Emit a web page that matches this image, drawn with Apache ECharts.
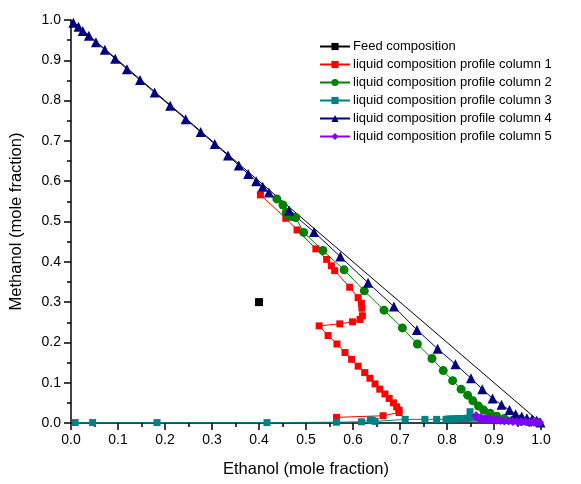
<!DOCTYPE html>
<html lang="en">
<head>
    <meta charset="UTF-8">
    <title>liquid composition profiles</title>
    <script src="https://cdn.jsdelivr.net/npm/echarts@6/dist/echarts.min.js"></script>
    <style>
        html, body { margin: 0; padding: 0; background: #fff; }
        #main { width: 581px; height: 484px; }
    </style>
</head>
<body>
<div id="main"></div>
<script type="text/javascript">
    // values: [ethanol, methanol]
    const feed = [[0.400, 0.300]]
    const diagonal = [[0, 1], [1, 0]]
    const column1 = [[0.403, 0.566], [0.457, 0.508], [0.481, 0.479], [0.521, 0.432], [0.544, 0.406], [0.554, 0.390],
        [0.561, 0.378], [0.593, 0.337], [0.611, 0.311], [0.618, 0.297], [0.619, 0.285], [0.620, 0.266], [0.615, 0.257],
        [0.599, 0.251], [0.572, 0.246], [0.528, 0.241], [0.547, 0.217], [0.566, 0.196], [0.583, 0.175], [0.597, 0.158],
        [0.611, 0.141], [0.625, 0.125], [0.636, 0.111], [0.647, 0.097], [0.657, 0.084], [0.668, 0.072], [0.677, 0.061],
        [0.686, 0.050], [0.693, 0.040], [0.698, 0.032], [0.698, 0.026], [0.664, 0.018], [0.565, 0.014]]
    const column2 = [[0.438, 0.556], [0.451, 0.541], [0.458, 0.522], [0.463, 0.515], [0.470, 0.512], [0.478, 0.510],
        [0.495, 0.473], [0.536, 0.428], [0.581, 0.380], [0.624, 0.328], [0.666, 0.280], [0.705, 0.236], [0.737, 0.196],
        [0.768, 0.160], [0.792, 0.130], [0.812, 0.105], [0.830, 0.084], [0.844, 0.069], [0.855, 0.055], [0.867, 0.042],
        [0.878, 0.032], [0.892, 0.024], [0.906, 0.017], [0.922, 0.011], [0.940, 0.007], [0.958, 0.004], [0.976, 0.002],
        [0.992, 0.001]]
    const column3 = [[0.009, 0.001], [0.046, 0.001], [0.183, 0.001], [0.417, 0.001], [0.565, 0.002], [0.618, 0.003],
        [0.637, 0.008], [0.642, 0.006], [0.647, 0.004], [0.711, 0.009], [0.753, 0.009], [0.778, 0.009], [0.798, 0.009],
        [0.804, 0.010], [0.810, 0.010], [0.816, 0.010], [0.822, 0.011], [0.828, 0.011], [0.834, 0.011], [0.840, 0.011],
        [0.845, 0.012], [0.849, 0.028], [0.853, 0.014], [0.858, 0.012]]
    const column4 = [[0.005, 0.993], [0.016, 0.983], [0.025, 0.973], [0.038, 0.961], [0.053, 0.945], [0.072, 0.926],
        [0.094, 0.904], [0.119, 0.878], [0.147, 0.851], [0.178, 0.820], [0.211, 0.787], [0.244, 0.754], [0.276, 0.722],
        [0.306, 0.692], [0.334, 0.664], [0.357, 0.639], [0.377, 0.618], [0.394, 0.600], [0.408, 0.586], [0.421, 0.572],
        [0.464, 0.527], [0.517, 0.474], [0.573, 0.413], [0.632, 0.348], [0.687, 0.289], [0.736, 0.231], [0.780, 0.184],
        [0.818, 0.146], [0.851, 0.111], [0.875, 0.084], [0.897, 0.061], [0.916, 0.045], [0.933, 0.032], [0.946, 0.022],
        [0.959, 0.016], [0.970, 0.012], [0.981, 0.009], [0.991, 0.006], [0.999, 0.001]]
    const column5 = [[0.862, 0.018], [0.864, 0.014], [0.868, 0.012], [0.872, 0.013], [0.876, 0.010], [0.881, 0.011],
        [0.886, 0.009], [0.892, 0.009], [0.899, 0.008], [0.906, 0.007], [0.914, 0.006], [0.922, 0.005], [0.931, 0.005],
        [0.940, 0.004], [0.949, 0.004], [0.958, 0.003], [0.967, 0.003], [0.976, 0.002], [0.984, 0.002], [0.991, 0.001],
        [0.997, 0.001]]
    const legendNames = ['Feed composition', 'liquid composition profile column 1', 'liquid composition profile column 2',
        'liquid composition profile column 3', 'liquid composition profile column 4', 'liquid composition profile column 5']

    const font = 'Liberation Sans, Arial, sans-serif'

    function profile(name, data, color, symbol, size) {
        return {
            name: name,
            type: 'line',
            data: data,
            symbol: symbol,
            symbolSize: size,
            showAllSymbol: true,
            color: color,
            lineStyle: {color: color, width: 1},
            itemStyle: {color: color},
            emphasis: {disabled: true},
            animation: false
        }
    }

    let chart = echarts.init(document.getElementById('main'))
    chart.setOption({
        backgroundColor: '#fff',
        grid: {left: 71, right: 40, top: 20, bottom: 61},
        legend: {
            data: legendNames,
            orient: 'vertical',
            left: 314,
            top: 35,
            itemWidth: 30,
            itemHeight: 9,
            itemGap: 5,
            textStyle: {fontFamily: font, fontSize: 13, color: '#000', padding: [0, 0, 0, -2]}
        },
        xAxis: {
            type: 'value',
            min: 0,
            max: 1,
            interval: 0.1,
            name: 'Ethanol (mole fraction)',
            nameLocation: 'middle',
            nameGap: 38,
            nameTextStyle: {fontFamily: font, fontSize: 16.5, color: '#000'},
            axisLine: {onZero: false, lineStyle: {color: '#000', width: 1.5}},
            axisTick: {length: 7, lineStyle: {color: '#000', width: 1.5}},
            minorTick: {show: true, splitNumber: 2, length: 4, lineStyle: {color: '#000', width: 1.5}},
            axisLabel: {fontFamily: font, fontSize: 14, color: '#000', margin: 10, formatter: v => v.toFixed(1)},
            splitLine: {show: false}
        },
        yAxis: {
            type: 'value',
            min: 0,
            max: 1,
            interval: 0.1,
            name: 'Methanol (mole fraction)',
            nameLocation: 'middle',
            nameGap: 46,
            nameTextStyle: {fontFamily: font, fontSize: 16.5, color: '#000'},
            axisLine: {show: true, onZero: false, lineStyle: {color: '#000', width: 1.5}},
            axisTick: {show: true, length: 7, lineStyle: {color: '#000', width: 1.5}},
            minorTick: {show: true, splitNumber: 2, length: 4, lineStyle: {color: '#000', width: 1.5}},
            axisLabel: {fontFamily: font, fontSize: 14, color: '#000', margin: 10, formatter: v => v.toFixed(1)},
            splitLine: {show: false}
        },
        series: [
            {
                name: 'diagonal',
                type: 'line',
                data: diagonal,
                symbol: 'none',
                lineStyle: {color: '#000', width: 1},
                emphasis: {disabled: true},
                animation: false
            },
            profile(legendNames[0], feed, '#000000', 'rect', 8),
            profile(legendNames[1], column1, '#ff0000', 'rect', 7),
            profile(legendNames[2], column2, '#008000', 'circle', 9),
            profile(legendNames[3], column3, '#008080', 'rect', 7),
            profile(legendNames[4], column4, '#000080', 'triangle', 10),
            profile(legendNames[5], column5, '#8000ff', 'diamond', 9)
        ]
    })
</script>
</body>
</html>
